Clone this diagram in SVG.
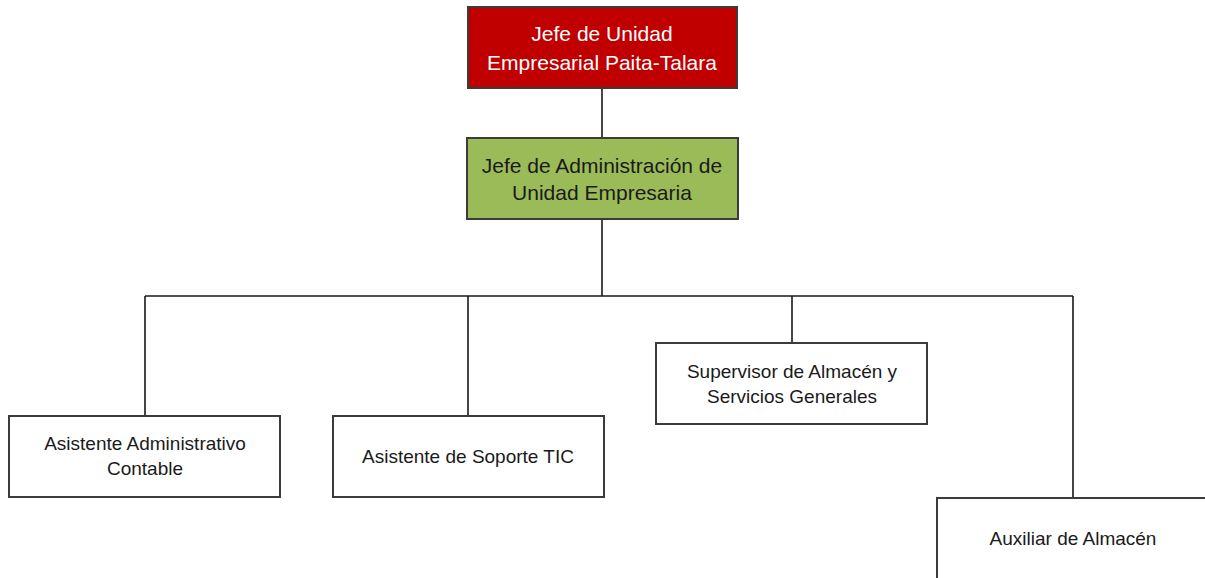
<svg xmlns="http://www.w3.org/2000/svg" width="1205" height="578" viewBox="0 0 1205 578">
<style>
.box{stroke:#3b3b3b;stroke-width:2}
.w{fill:#ffffff}
.t{font-family:"Liberation Sans",Arial,sans-serif;text-anchor:middle}
.big{font-size:21px}
.sm{font-size:19px;fill:#1a1a1a}
.conn{stroke:#1a1a1a;stroke-width:1.6;fill:none}
</style>
<rect width="1205" height="578" fill="#ffffff"/>
<g id="connectors">
<path class="conn" d="M602 88 V138 M602 219 V296 M145 296 H1073 M145 296 V416 M468 296 V416 M792 296 V343 M1073 296 V498"/>
</g>
<g id="jefe-unidad">
<rect class="box" x="468" y="7" width="269" height="81" fill="#c00000"/>
<text class="t big" x="602" y="41" fill="#ffffff">Jefe de Unidad</text>
<text class="t big" x="602" y="70" fill="#ffffff">Empresarial Paita-Talara</text>
</g>
<g id="jefe-administracion">
<rect class="box" x="467" y="138" width="271" height="81" fill="#9bbb59"/>
<text class="t big" x="602" y="173" fill="#1a1a1a">Jefe de Administración de</text>
<text class="t big" x="602" y="200" fill="#1a1a1a">Unidad Empresaria</text>
</g>
<g id="asistente-administrativo">
<rect class="box w" x="9" y="416" width="271" height="81"/>
<text class="t sm" x="145" y="450">Asistente Administrativo</text>
<text class="t sm" x="145" y="475">Contable</text>
</g>
<g id="asistente-soporte">
<rect class="box w" x="333" y="416" width="271" height="81"/>
<text class="t sm" x="468" y="463">Asistente de Soporte TIC</text>
</g>
<g id="supervisor-almacen">
<rect class="box w" x="656" y="343" width="271" height="81"/>
<text class="t sm" x="792" y="378">Supervisor de Almacén y</text>
<text class="t sm" x="792" y="403">Servicios Generales</text>
</g>
<g id="auxiliar-almacen">
<rect class="box w" x="937" y="498" width="272" height="84"/>
<text class="t sm" x="1073" y="545">Auxiliar de Almacén</text>
</g>
</svg>
